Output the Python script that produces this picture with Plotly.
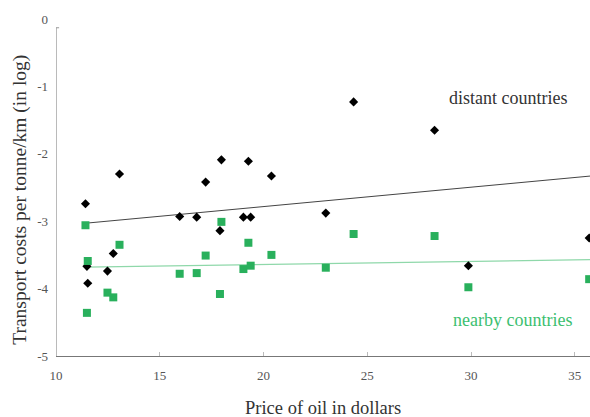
import plotly.graph_objects as go

oil_price = [11.42, 13.06, 17.21, 17.97, 19.27, 20.38, 24.34, 28.24, 15.96, 16.78,
             17.90, 19.03, 19.38, 12.76, 11.49, 12.48, 11.53, 23.00, 29.87, 35.69]
distant_cost = [-2.74, -2.30, -2.42, -2.09, -2.11, -2.33, -1.23, -1.65, -2.93, -2.94,
                -3.14, -2.94, -2.94, -3.48, -3.67, -3.74, -3.92, -2.88, -3.66, -3.25]
nearby_cost = [-3.06, -3.35, -3.51, -3.01, -3.32, -3.50, -3.19, -3.22, -3.78, -3.77,
               -4.08, -3.71, -3.66, -4.13, -4.36, -4.06, -3.59, -3.69, -3.98, -3.86]

trend_x = [11.42, 35.75]
distant_trend = [-3.03, -2.33]
nearby_trend = [-3.68, -3.57]

x_ticks = [10, 15, 20, 25, 30, 35]
y_ticks = [0, -1, -2, -3, -4, -5]

GREEN = "#29b05c"
FONT = "Liberation Serif"

fig = go.Figure()
fig.add_trace(go.Scatter(x=trend_x, y=distant_trend, mode="lines",
                         line=dict(color="#444444", width=1), hoverinfo="skip"))
fig.add_trace(go.Scatter(x=trend_x, y=nearby_trend, mode="lines",
                         line=dict(color="#8fd8aa", width=1.2), hoverinfo="skip"))
fig.add_trace(go.Scatter(x=oil_price, y=distant_cost, mode="markers",
                         marker=dict(symbol="diamond", size=7, color="black")))
fig.add_trace(go.Scatter(x=oil_price, y=nearby_cost, mode="markers",
                         marker=dict(symbol="square", size=8, color=GREEN)))

# y axis line (stops slightly below 0, as in the reference)
fig.add_shape(type="line", xref="x", yref="y", x0=10, x1=10, y0=-5, y1=-0.13,
              line=dict(color="#777777", width=1))
fig.add_shape(type="line", xref="x", yref="y", x0=10, x1=10.15, y0=-0.13, y1=-0.13,
              line=dict(color="#999999", width=1))

fig.add_annotation(x=28.84, y=-1.17, text="distant countries", showarrow=False,
                   xanchor="left", yanchor="middle",
                   font=dict(family=FONT, size=18, color="#333333"))
fig.add_annotation(x=29.03, y=-4.47, text="nearby countries", showarrow=False,
                   xanchor="left", yanchor="middle",
                   font=dict(family=FONT, size=18, color="#3cc070"))

# axis titles
fig.add_annotation(xref="paper", yref="paper", x=0.5, y=-0.155,
                   text="Price of oil in dollars", showarrow=False,
                   xanchor="center", yanchor="middle",
                   font=dict(family=FONT, size=18.5, color="#333333"))
fig.add_annotation(xref="paper", yref="paper", x=-0.068, y=0.4625,
                   text="Transport costs per tonne/km (in log)", showarrow=False,
                   textangle=-90, xanchor="center", yanchor="middle",
                   font=dict(family=FONT, size=19.5, color="#333333"))

fig.update_layout(
    width=590, height=417,
    margin=dict(l=56, r=0, t=19, b=61, autoexpand=False),
    paper_bgcolor="white", plot_bgcolor="white",
    showlegend=False,
    font=dict(family=FONT, color="#555555"),
    xaxis=dict(range=[10, 35.73], tickvals=x_ticks, ticktext=[str(v) for v in x_ticks],
               automargin=False,
               showgrid=False, zeroline=False, showline=True, linecolor="#777777",
               linewidth=1, ticks="inside", ticklen=4, tickcolor="#bbbbbb",
               ticklabelstandoff=7,
               tickfont=dict(family=FONT, size=13, color="#555555")),
    yaxis=dict(range=[-5, 0], tickvals=y_ticks, ticktext=[str(v) for v in y_ticks],
               automargin=False,
               showgrid=False, zeroline=False, showline=False, ticks="",
               ticklabelstandoff=7,
               tickfont=dict(family=FONT, size=13, color="#555555")),
)

fig.write_html("out.html",
               config={"displayModeBar": False},
               post_script="document.body.style.margin='0';"
                           "document.body.style.overflow='hidden';")
